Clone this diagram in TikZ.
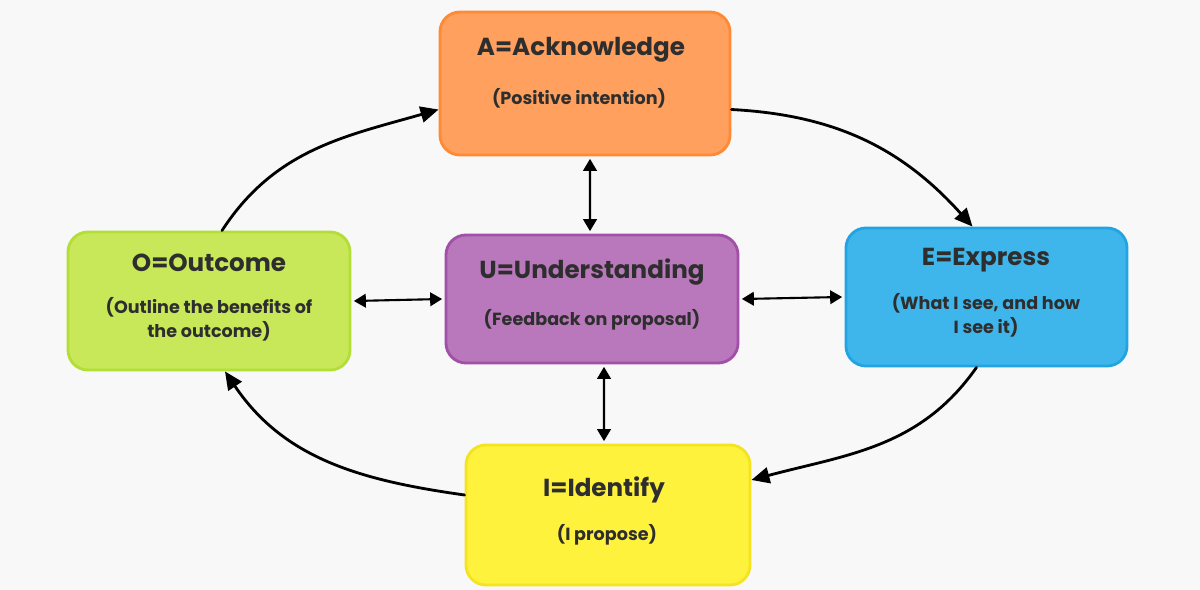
\documentclass[tikz,border=0pt]{standalone}
\usepackage{fontspec}
\setmainfont{Poppins}
\usetikzlibrary{arrows.meta,positioning}
\definecolor{bgc}{HTML}{F8F8F8}
\definecolor{txt}{HTML}{2E2E2E}
\definecolor{ackfill}{HTML}{FFA05E}\definecolor{ackline}{HTML}{FF8A35}
\definecolor{outfill}{HTML}{C8E85A}\definecolor{outline}{HTML}{B2DE35}
\definecolor{undfill}{HTML}{B978BB}\definecolor{undline}{HTML}{A24FAA}
\definecolor{expfill}{HTML}{3FB6EB}\definecolor{expline}{HTML}{22A4E3}
\definecolor{idfill}{HTML}{FFF23C}\definecolor{idline}{HTML}{F3E41F}
\tikzset{
  stage/.style={draw=#1line,fill=#1fill,line width=2pt,rounded corners=0.5cm},
  ttl/.style={text=txt,font=\bfseries\fontsize{17.5}{20}\selectfont,inner sep=0pt},
  sub/.style={text=txt,font=\bfseries\fontsize{12.5}{17}\selectfont,align=center,inner sep=0pt},
  cyc/.style={line width=2pt,-{Triangle[length=0.45cm,width=0.4cm]}},
  dbl/.style={line width=1.5pt,{Triangle[length=0.3cm,width=0.34cm]}-{Triangle[length=0.3cm,width=0.34cm]}}
}
\begin{document}
\begin{tikzpicture}[x=0.025cm,y=-0.025cm,line cap=round,line join=round]
  \fill[bgc] (0,0) rectangle (1200,590);
  \useasboundingbox (0,0) rectangle (1200,590);
  % boxes
  \node[stage=ack,minimum width=7.25cm,minimum height=3.575cm] (A) at (585,83.5) {};
  \node[stage=out,minimum width=7.05cm,minimum height=3.45cm] (O) at (209,301) {};
  \node[stage=und,minimum width=7.3cm,minimum height=3.2cm] (U) at (592,299) {};
  \node[stage=exp,minimum width=7.025cm,minimum height=3.45cm] (E) at (986.5,297) {};
  \node[stage=id,minimum width=7.1cm,minimum height=3.5cm] (I) at (608,515) {};
  % texts
  \node[ttl] (At) at (581,50) {A=Acknowledge};
  \node[sub] (As) at (579,98) {(Positive intention)};
  \node[ttl] (Ot) at (209,263) {O=Outcome};
  \node[sub] (Os) at (209,319) {(Outline the benefits of\\the outcome)};
  \node[ttl] (Ut) at (592,272) {U=Understanding};
  \node[sub] (Us) at (592,320) {(Feedback on proposal)};
  \node[ttl] (Et) at (986,260) {E=Express};
  \node[sub] (Es) at (986,315) {(What I see, and how\\I see it)};
  \node[ttl] (It) at (604,490) {I=Identify};
  \node[sub] (Is) at (607,535) {(I propose)};
  % cycle
  \draw[cyc] ([yshift=-0.65cm]A.east) to[out=-3,in=132] ([xshift=-0.35cm]E.north);
  \draw[cyc] ([xshift=-0.25cm]E.south) to[out=-125,in=15] ([yshift=0.875cm]I.east);
  \draw[cyc] ([yshift=0.5cm]I.west) to[out=172,in=-56] ([xshift=0.4cm]O.south);
  \draw[cyc] ([xshift=0.325cm]O.north) to[out=57,in=196] ([yshift=-0.65cm]A.west);
  % links to the centre
  \draw[dbl] ([xshift=0.125cm,yshift=-0.06cm]A.south) -- ([xshift=-0.05cm,yshift=0.06cm]U.north);
  \draw[dbl] ([xshift=0.06cm]O.east) -- ([xshift=-0.06cm]U.west);
  \draw[dbl] ([xshift=0.06cm]U.east) -- ([xshift=-0.06cm]E.west);
  \draw[dbl] ([xshift=0.3cm,yshift=-0.06cm]U.south) -- ([xshift=-0.1cm,yshift=0.06cm]I.north);
\end{tikzpicture}
\end{document}
